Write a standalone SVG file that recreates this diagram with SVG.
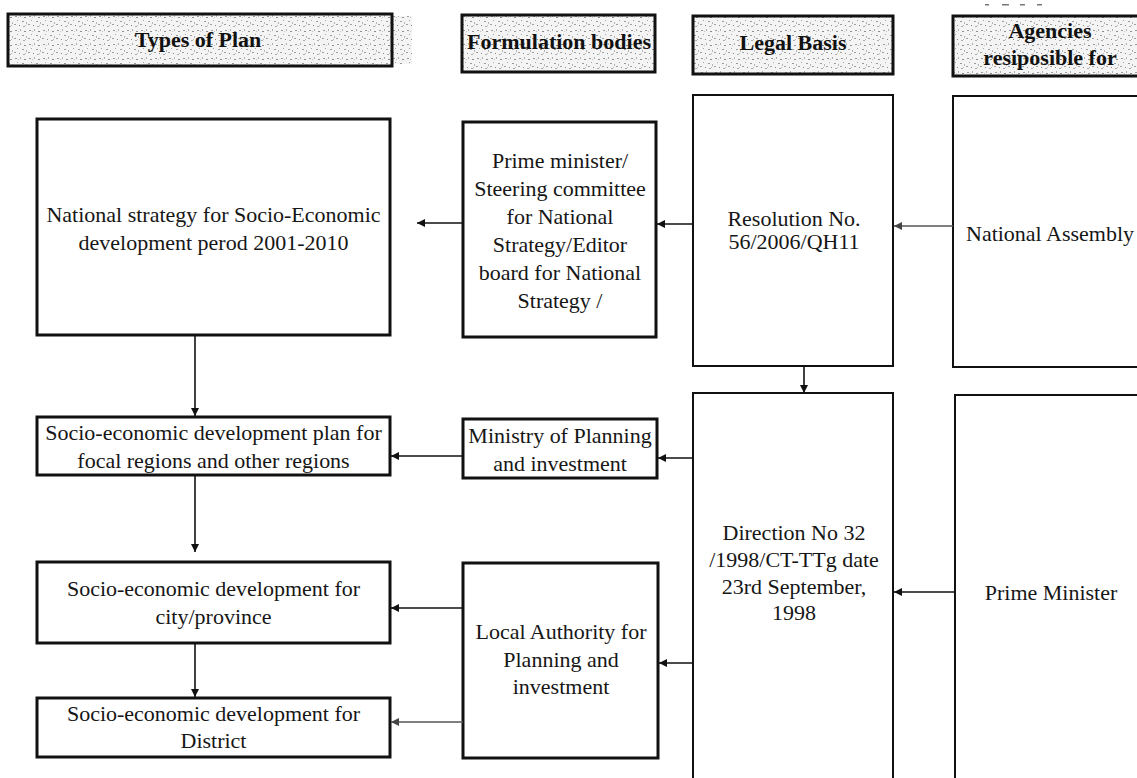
<svg xmlns="http://www.w3.org/2000/svg" width="1137" height="778" viewBox="0 0 1137 778">
  <defs>
    <!-- stippled grey fill used by the column headers -->
    <pattern id="stipple" width="14" height="14" patternUnits="userSpaceOnUse">
      <rect width="14" height="14" fill="#f4f4f4"/>
      <rect x="1" y="2" width="2" height="1" fill="#9a9a9a"/>
      <rect x="6" y="1" width="1" height="2" fill="#b0b0b0"/>
      <rect x="10" y="3" width="2" height="1" fill="#8e8e8e"/>
      <rect x="3" y="6" width="1" height="1" fill="#a5a5a5"/>
      <rect x="8" y="7" width="2" height="1" fill="#9c9c9c"/>
      <rect x="12" y="8" width="1" height="2" fill="#b5b5b5"/>
      <rect x="0" y="10" width="2" height="1" fill="#a0a0a0"/>
      <rect x="5" y="11" width="1" height="1" fill="#8a8a8a"/>
      <rect x="9" y="12" width="2" height="1" fill="#acacac"/>
      <rect x="4" y="3" width="1" height="1" fill="#c2c2c2"/>
      <rect x="11" y="11" width="1" height="1" fill="#bdbdbd"/>
    </pattern>
    <marker id="arrow" viewBox="0 0 10 10" refX="10" refY="5" markerWidth="8" markerHeight="8" markerUnits="userSpaceOnUse" orient="auto">
      <path d="M0,0 L10,5 L0,10 Z" fill="#111"/>
    </marker>
    <marker id="arrowGrey" viewBox="0 0 10 10" refX="10" refY="5" markerWidth="8" markerHeight="8" markerUnits="userSpaceOnUse" orient="auto">
      <path d="M0,0 L10,5 L0,10 Z" fill="#444"/>
    </marker>
  </defs>
  <style>
    .box { fill: #fff; stroke: #111; stroke-width: 3; }
    .thin { fill: #fff; stroke: #111; stroke-width: 2; }
    .head { fill: url(#stipple); stroke: #111; stroke-width: 3; }
    .t { font-family: "Liberation Serif", "Times New Roman", serif; font-size: 20px; fill: #161616; text-anchor: middle; }
    .h { font-family: "Liberation Serif", "Times New Roman", serif; font-size: 20px; font-weight: bold; fill: #111; text-anchor: middle; }
    .link { fill: none; stroke: #111; stroke-width: 1.6; marker-end: url(#arrow); }
    .link.grey { stroke: #555; marker-end: url(#arrowGrey); }
  </style>

  <rect width="1137" height="778" fill="#fff"/>

  <!-- column headers -->
  <g id="header-types">
    <rect x="392" y="16" width="20" height="48" fill="url(#stipple)"/>
    <rect class="head" x="8" y="14" width="384" height="52"/>
    <text class="h" transform="translate(198 47) scale(1.1 1)">Types of Plan</text>
  </g>
  <g id="header-formulation">
    <rect class="head" x="462" y="15" width="193" height="57"/>
    <text class="h" transform="translate(559 49) scale(1.1 1)">Formulation bodies</text>
  </g>
  <g id="header-legal">
    <rect class="head" x="693" y="16" width="200" height="58"/>
    <text class="h" transform="translate(793 50) scale(1.1 1)">Legal Basis</text>
  </g>
  <g id="header-agencies">
    <rect class="head" x="953" y="16" width="200" height="60"/>
    <text class="h" transform="translate(1050 0) scale(1.1 1)"><tspan x="0" y="38">Agencies</tspan><tspan x="0" y="65">resiposible for</tspan></text>
    <g fill="#777">
      <rect x="985" y="4" width="4" height="1.5"/>
      <rect x="1002" y="4" width="7" height="1.5"/>
      <rect x="1020" y="4" width="5" height="1.5"/>
      <rect x="1037" y="4" width="5" height="1.5"/>
    </g>
  </g>

  <!-- types of plan -->
  <g id="national-strategy">
    <rect class="box" x="37" y="119" width="353" height="216"/>
    <text class="t" transform="translate(213.5 0) scale(1.1 1)"><tspan x="0" y="222">National strategy for Socio-Economic</tspan><tspan x="0" y="250">development perod 2001-2010</tspan></text>
  </g>
  <g id="plan-focal">
    <rect class="box" x="37" y="417" width="353" height="58"/>
    <text class="t" transform="translate(213.5 0) scale(1.1 1)"><tspan x="0" y="440">Socio-economic development plan for</tspan><tspan x="0" y="468">focal regions and other regions</tspan></text>
  </g>
  <g id="plan-city">
    <rect class="box" x="37" y="562" width="353" height="81"/>
    <text class="t" transform="translate(213.5 0) scale(1.1 1)"><tspan x="0" y="596">Socio-economic development for</tspan><tspan x="0" y="624">city/province</tspan></text>
  </g>
  <g id="plan-district">
    <rect class="box" x="37" y="698" width="353" height="59"/>
    <text class="t" transform="translate(213.5 0) scale(1.1 1)"><tspan x="0" y="721">Socio-economic development for</tspan><tspan x="0" y="748">District</tspan></text>
  </g>

  <!-- formulation bodies -->
  <g id="prime-minister-steering">
    <rect class="box" x="463" y="122" width="193" height="215"/>
    <text class="t" transform="translate(560 0) scale(1.1 1)"><tspan x="0" y="168">Prime minister/</tspan><tspan x="0" y="196">Steering committee</tspan><tspan x="0" y="224">for National</tspan><tspan x="0" y="252">Strategy/Editor</tspan><tspan x="0" y="280">board for National</tspan><tspan x="0" y="308">Strategy /</tspan></text>
  </g>
  <g id="ministry-planning">
    <rect class="box" x="463" y="419" width="194" height="59"/>
    <text class="t" transform="translate(560 0) scale(1.1 1)"><tspan x="0" y="443">Ministry of Planning</tspan><tspan x="0" y="471">and investment</tspan></text>
  </g>
  <g id="local-authority">
    <rect class="box" x="463" y="563" width="195" height="195"/>
    <text class="t" transform="translate(561 0) scale(1.1 1)"><tspan x="0" y="639">Local Authority for</tspan><tspan x="0" y="667">Planning and</tspan><tspan x="0" y="694">investment</tspan></text>
  </g>

  <!-- legal basis -->
  <g id="resolution">
    <rect class="thin" x="693" y="95" width="200" height="271"/>
    <text class="t" transform="translate(794 0) scale(1.1 1)"><tspan x="0" y="226">Resolution No.</tspan><tspan x="0" y="249">56/2006/QH11</tspan></text>
  </g>
  <g id="direction">
    <rect class="thin" x="693" y="393" width="200" height="400"/>
    <text class="t" transform="translate(794 0) scale(1.1 1)"><tspan x="0" y="540">Direction No 32</tspan><tspan x="0" y="567">/1998/CT-TTg  date</tspan><tspan x="0" y="594">23rd September,</tspan><tspan x="0" y="620">1998</tspan></text>
  </g>

  <!-- responsible agencies -->
  <g id="national-assembly">
    <rect class="thin" x="953" y="96" width="200" height="271"/>
    <text class="t" transform="translate(1050 241) scale(1.1 1)">National Assembly</text>
  </g>
  <g id="prime-minister">
    <rect class="thin" x="955" y="395" width="200" height="400"/>
    <text class="t" transform="translate(1051 600) scale(1.1 1)">Prime Minister</text>
  </g>

  <!-- connectors -->
  <g id="connectors">
    <line class="link" x1="463" y1="223" x2="417" y2="223"/>
    <line class="link" x1="693" y1="224" x2="657" y2="224"/>
    <line class="link grey" x1="953" y1="226" x2="894" y2="226"/>
    <line class="link" x1="804" y1="366" x2="804" y2="393"/>
    <line class="link" x1="955" y1="592" x2="894" y2="592"/>
    <line class="link" x1="693" y1="458" x2="658" y2="458"/>
    <line class="link" x1="463" y1="456" x2="391" y2="456"/>
    <line class="link" x1="693" y1="663" x2="659" y2="663"/>
    <line class="link" x1="463" y1="608" x2="391" y2="608"/>
    <line class="link grey" x1="463" y1="722" x2="391" y2="722"/>
    <line class="link" x1="195" y1="336" x2="195" y2="416"/>
    <line class="link" x1="195" y1="476" x2="195" y2="552"/>
    <line class="link" x1="195" y1="644" x2="195" y2="697"/>
  </g>
</svg>
